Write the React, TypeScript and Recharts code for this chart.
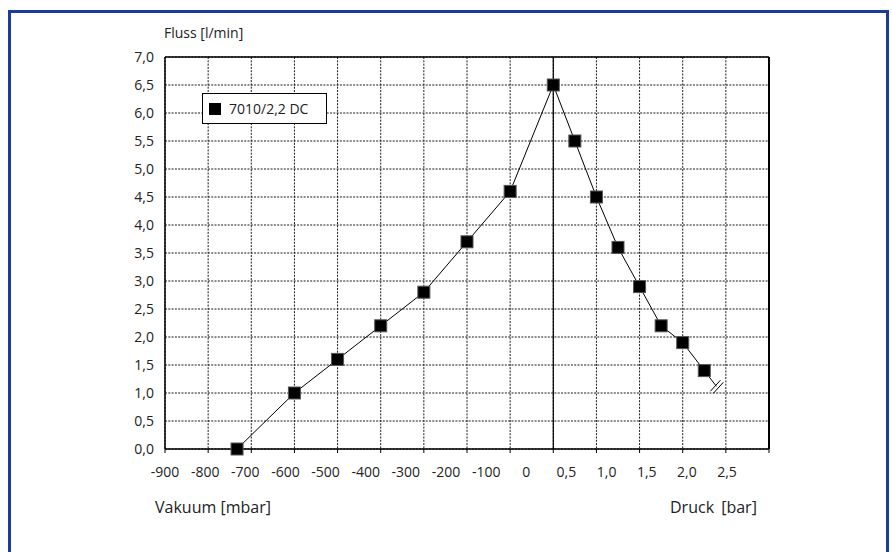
import { LineChart, Line, XAxis, YAxis, CartesianGrid, ReferenceLine } from "recharts";

// x positions are grid steps: 0 = -900 mbar ... 9 = 0, 10 = 0,5 bar ... 14 = 2,5 bar
const positions = [1.67, 3, 4, 5, 6, 7, 8, 9, 9.5, 10, 10.5, 11, 11.5, 12, 12.5];
const flowValues = [0.0, 1.0, 1.6, 2.2, 2.8, 3.7, 4.6, 6.5, 5.5, 4.5, 3.6, 2.9, 2.2, 1.9, 1.4];
const breakPoint = { pos: 12.78, flow: 1.12 };

const gridTicks = [0, 1, 2, 3, 4, 5, 6, 7, 8, 9, 10, 11, 12, 13, 14];
const xLabels = ["-900", "-800", "-700", "-600", "-500", "-400", "-300", "-200", "-100", "0", "0,5", "1,0", "1,5", "2,0", "2,5"];
const yTicks = [0, 0.5, 1, 1.5, 2, 2.5, 3, 3.5, 4, 4.5, 5, 5.5, 6, 6.5, 7];

const seriesName = "7010/2,2 DC";

const data = [
  ...positions.map((p, i) => ({ pos: p, flow: flowValues[i], isBreak: false })),
  { ...breakPoint, isBreak: true },
];

const FONT = "'Open Sans', sans-serif";
const TEXT = "#222";

const fmt = (v: number) => v.toFixed(1).replace(".", ",");

const LabelTick = (props: any) => {
  const { x, y, payload } = props;
  return (
    <text x={x} y={y + 24} textAnchor="middle" fontSize={14} fontFamily={FONT} fill={TEXT}>
      {xLabels[payload.value]}
    </text>
  );
};

const renderDot = (props: any) => {
  const { cx, cy, payload, index } = props;
  if (payload.isBreak) {
    return (
      <g key={`d-${index}`}>
        <line x1={cx - 6} y1={cy + 5} x2={cx + 4} y2={cy - 6} stroke="#000" strokeWidth={1} />
        <line x1={cx - 3} y1={cy + 7} x2={cx + 7} y2={cy - 4} stroke="#000" strokeWidth={1} />
      </g>
    );
  }
  return <rect key={`d-${index}`} x={cx - 6} y={cy - 6} width={12} height={12} fill="#000" stroke="#555" strokeWidth={1} />;
};

export default function App() {
  return (
    <div style={{ position: "fixed", left: 0, top: 0, width: 892, height: 552, overflow: "hidden", background: "#fff" }}>
      <div
        style={{
          position: "absolute",
          left: 8,
          top: 10,
          width: 881,
          height: 700,
          boxSizing: "border-box",
          border: "3px solid #1c3c9c",
        }}
      />
      <div style={{ position: "absolute", left: 164, top: 23, fontFamily: FONT, fontSize: 14, color: TEXT }}>
        Fluss [l/min]
      </div>
      <div style={{ position: "absolute", left: 155, top: 496, fontFamily: FONT, fontSize: 16, color: TEXT }}>
        Vakuum [mbar]
      </div>
      <div style={{ position: "absolute", left: 670, top: 496, fontFamily: FONT, fontSize: 16, color: TEXT, wordSpacing: 3 }}>
        Druck [bar]
      </div>
      <div style={{ position: "absolute", left: 0, top: 0 }}>
        <LineChart width={892} height={552} data={data} margin={{ top: 57, right: 123, bottom: 59, left: 0 }}>
          <CartesianGrid stroke="#1a1a1a" strokeDasharray="2 1.3" />
          <XAxis
            dataKey="pos"
            type="number"
            domain={[0, 14]}
            ticks={gridTicks}
            interval={0}
            height={4}
            tickSize={4}
            tickFormatter={() => ""}
            axisLine={{ stroke: "#000", strokeWidth: 1.5 }}
            tickLine={{ stroke: "#000" }}
          />
          <XAxis
            xAxisId="lab"
            dataKey="pos"
            type="number"
            domain={[0, 14]}
            ticks={gridTicks}
            interval={0}
            height={40}
            padding={{ left: 0, right: 42 }}
            axisLine={false}
            tickLine={false}
            tickSize={0}
            tickMargin={0}
            tick={<LabelTick />}
          />
          <YAxis
            type="number"
            domain={[0, 7]}
            ticks={yTicks}
            interval={0}
            width={165}
            tickFormatter={fmt}
            tickLine={false}
            tickSize={0}
            tickMargin={11}
            axisLine={{ stroke: "#000", strokeWidth: 1.5 }}
            tick={{ fill: TEXT, fontSize: 14, fontFamily: FONT }}
          />
          <ReferenceLine x={9} stroke="#000" strokeWidth={1.2} />
          <ReferenceLine y={7} stroke="#000" strokeWidth={1.5} />
          <ReferenceLine x={14} stroke="#000" strokeWidth={2} />
          <Line
            type="linear"
            dataKey="flow"
            name={seriesName}
            stroke="#000"
            strokeWidth={1}
            dot={renderDot}
            activeDot={false}
            isAnimationActive={false}
          />
        </LineChart>
      </div>
      <div
        style={{
          position: "absolute",
          left: 202,
          top: 93,
          boxSizing: "border-box",
          width: 125,
          height: 31,
          border: "1px solid #000",
          background: "#fff",
          display: "flex",
          alignItems: "center",
          fontFamily: FONT,
          fontSize: 14,
          color: TEXT,
        }}
      >
        <span style={{ width: 12, height: 12, background: "#000", marginLeft: 6, marginRight: 8 }} />
        {seriesName}
      </div>
    </div>
  );
}
